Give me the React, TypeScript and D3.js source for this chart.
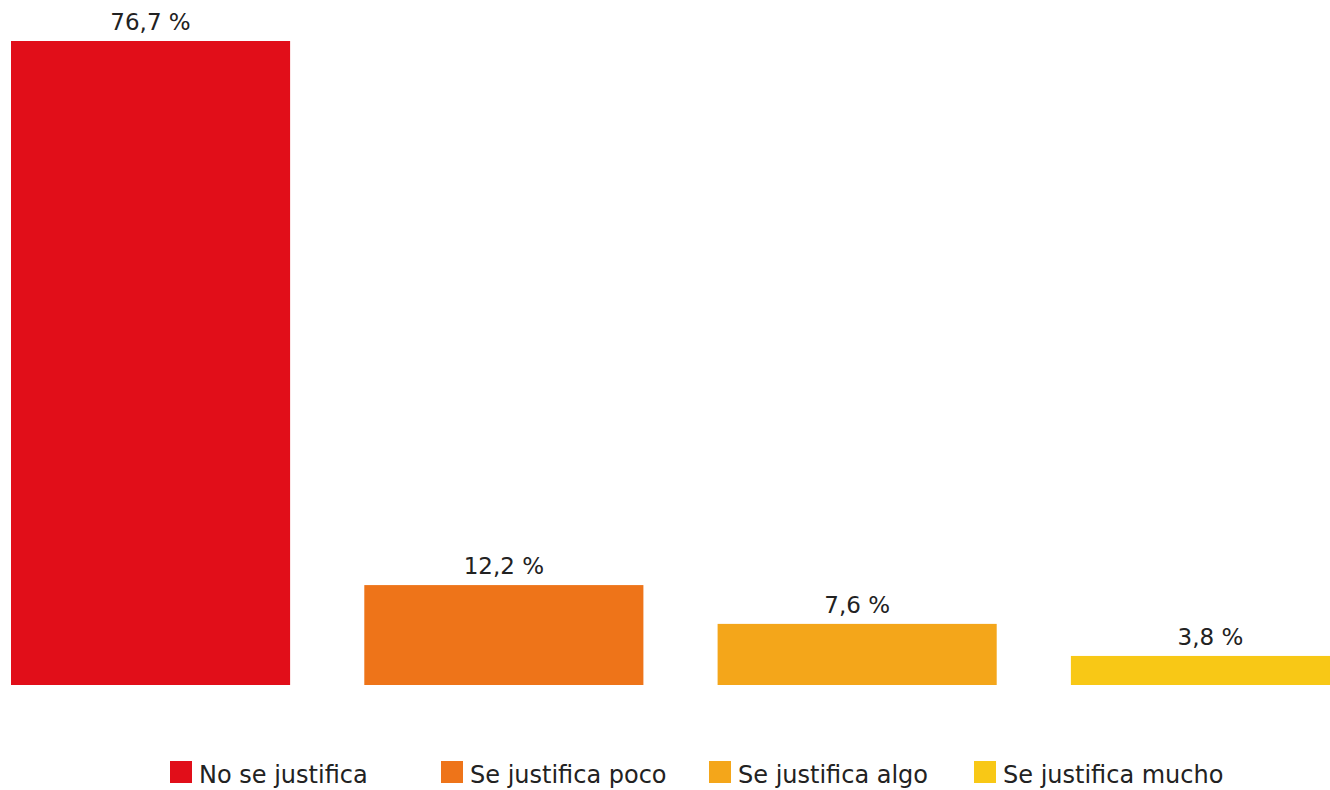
import { useEffect, useRef } from 'react';
import * as d3 from 'd3';

const categories = ['No se justifica', 'Se justifica poco', 'Se justifica algo', 'Se justifica mucho'];
const values = [76.7, 12.2, 7.6, 3.8];
const labels = ['76,7 %', '12,2 %', '7,6 %', '3,8 %'];
const colors = ['#E10E19', '#EE7419', '#F4A61A', '#F8C816'];

const W = 1330;
const H = 790;

export default function App() {
  const svgRef = useRef<SVGSVGElement>(null);

  useEffect(() => {
    if (!svgRef.current) return;
    const svg = d3.select(svgRef.current);
    svg.selectAll('*').remove();

    const font = "'DejaVu Sans', sans-serif";
    const bottom = 685;

    const x = d3.scaleBand<string>()
      .domain(categories)
      .range([11, 1350])
      .paddingInner(0.21)
      .paddingOuter(0);

    const y = d3.scaleLinear()
      .domain([0, d3.max(values) as number])
      .range([688, 41]);

    const data = categories.map((c, i) => ({ c, v: values[i], label: labels[i], color: colors[i] }));

    // bars
    svg.selectAll('.bar')
      .data(data)
      .enter().append('rect')
      .attr('class', 'bar')
      .attr('x', d => x(d.c) as number)
      .attr('y', d => y(d.v))
      .attr('width', x.bandwidth())
      .attr('height', d => bottom - y(d.v))
      .attr('fill', d => d.color);

    // value labels
    svg.selectAll('.label')
      .data(data)
      .enter().append('text')
      .attr('class', 'label')
      .attr('x', d => (x(d.c) as number) + x.bandwidth() / 2)
      .attr('y', d => y(d.v) - 11)
      .attr('text-anchor', 'middle')
      .attr('font-family', font)
      .attr('font-size', 23)
      .attr('fill', '#222')
      .text(d => d.label);

    // legend
    const legendX = d3.scaleLinear().domain([0, 3]).range([170, 974]);
    const item = svg.selectAll('.legend')
      .data(data)
      .enter().append('g')
      .attr('class', 'legend')
      .attr('transform', (d, i) => `translate(${legendX(i) + (i === 1 || i === 2 ? 3 : 0)},761)`);

    item.append('rect')
      .attr('width', 22)
      .attr('height', 22)
      .attr('fill', d => d.color);

    item.append('text')
      .attr('x', 29)
      .attr('y', 22)
      .attr('font-family', font)
      .attr('font-size', 24)
      .attr('fill', '#222')
      .text(d => d.c);
  }, []);

  return (
    <svg
      ref={svgRef}
      width={W}
      height={H}
      style={{ position: 'absolute', left: 0, top: 0, display: 'block', background: '#fff' }}
    />
  );
}
